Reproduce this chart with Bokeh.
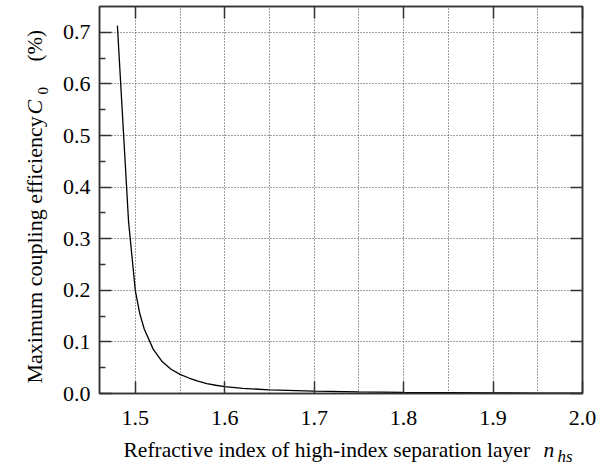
import math

from bokeh.embed import file_html
from bokeh.layouts import column, row
from bokeh.models import FixedTicker, Label, LinearAxis, PrintfTickFormatter, Range1d
from bokeh.plotting import figure
from bokeh.resources import INLINE

# Refractive index of the high-index separation layer
n_hs = [1.48, 1.4925, 1.50, 1.505, 1.51, 1.52, 1.53, 1.54, 1.55, 1.56, 1.57,
        1.58, 1.59, 1.60, 1.62, 1.65, 1.70, 1.75, 1.80, 1.85, 1.90, 1.95, 2.00]
# Maximum coupling efficiency C0 (%)
c0 = [0.713, 0.333, 0.200, 0.155, 0.125, 0.086, 0.062, 0.047, 0.037, 0.030, 0.024,
      0.019, 0.016, 0.0135, 0.010, 0.007, 0.0045, 0.003, 0.002, 0.0015, 0.001, 0.0008, 0.0006]

x_ticks = [1.5, 1.6, 1.7, 1.8, 1.9, 2.0]
x_grid = [1.5, 1.55, 1.6, 1.65, 1.7, 1.75, 1.8, 1.85, 1.9, 1.95]
y_ticks = [0.0, 0.1, 0.2, 0.3, 0.4, 0.5, 0.6, 0.7]
y_minor = [0.05, 0.15, 0.25, 0.35, 0.45, 0.55, 0.65]
y_grid = [0.1, 0.2, 0.3, 0.4, 0.5, 0.6, 0.7]

SERIF = "Liberation Serif"
FRAME = "#333333"

LEFT_W = 52      # strip holding the rotated y title
MAIN_W = 608 - LEFT_W
MAIN_H = 437
BOTTOM_H = 466 - MAIN_H  # strip holding the x title

p = figure(width=MAIN_W, height=MAIN_H, output_backend="svg", toolbar_location=None,
           x_range=Range1d(1.46, 2.0), y_range=Range1d(0.0, 0.75),
           min_border_left=47, min_border_right=26, min_border_top=6,
           min_border_bottom=MAIN_H - 393,
           background_fill_color="white", border_fill_color="white")
p.outline_line_color = FRAME
p.outline_line_width = 1.5


def style_axis(ax, tick_len, labels=True):
    ax.axis_line_color = FRAME
    ax.axis_line_width = 1.5
    ax.major_tick_line_color = FRAME
    ax.major_tick_line_width = 1.5
    ax.major_tick_in = tick_len
    ax.major_tick_out = 0
    ax.minor_tick_line_color = None
    if labels:
        ax.major_label_text_font = SERIF
        ax.major_label_text_font_size = "22px"
        ax.major_label_text_color = "black"
        ax.formatter = PrintfTickFormatter(format="%.1f")
    else:
        # mirrored ticks only, no numbers
        ax.major_label_text_color = None
        ax.major_label_text_font_size = "1px"
        ax.major_label_standoff = 0


xa = p.xaxis[0]
xa.ticker = FixedTicker(ticks=x_ticks)
style_axis(xa, 12)
xa.major_label_standoff = 17

ya = p.yaxis[0]
ya.ticker = FixedTicker(ticks=y_ticks, minor_ticks=y_minor)
style_axis(ya, 12)
ya.minor_tick_line_color = FRAME
ya.minor_tick_line_width = 1.5
ya.minor_tick_in = 6
ya.minor_tick_out = 0
ya.major_label_standoff = 9

top = LinearAxis(ticker=FixedTicker(ticks=x_ticks))
style_axis(top, 12, labels=False)
p.add_layout(top, "above")

right = LinearAxis(ticker=FixedTicker(ticks=y_ticks))
style_axis(right, 12, labels=False)
p.add_layout(right, "right")

# dotted grid: every 0.05 in n_hs, every 0.1 in C0
p.xgrid.ticker = FixedTicker(ticks=x_grid)
p.ygrid.ticker = FixedTicker(ticks=y_grid)
for g in (p.xgrid, p.ygrid):
    g.grid_line_color = "#444444"
    g.grid_line_width = 1
    g.grid_line_dash = "1 2"

p.line(n_hs, c0, line_color="black", line_width=1.3)


def text_strip(width, height):
    f = figure(width=width, height=height, output_backend="svg", toolbar_location=None,
               x_range=Range1d(0, 1), y_range=Range1d(0, 1), min_border=0,
               x_axis_location=None, y_axis_location=None,
               background_fill_color="white", border_fill_color="white")
    f.outline_line_color = None
    f.xgrid.grid_line_color = None
    f.ygrid.grid_line_color = None
    return f


def text(f, x, y, s, size, italic=False, angle=0.0):
    f.add_layout(Label(x=x, y=y, x_units="screen", y_units="screen", text=s,
                       text_font=SERIF, text_font_size=size,
                       text_font_style="italic" if italic else "normal",
                       text_color="black", text_align="left",
                       text_baseline="alphabetic", angle=angle))


# x title with subscripted symbol n_hs (strip frame shares the main plot's left edge)
bottom = text_strip(MAIN_W, BOTTOM_H)
text(bottom, 24, 17, "Refractive index of high-index separation layer", "21.5px")
text(bottom, 444, 17, "n", "21.5px", italic=True)
text(bottom, 458, 10, "hs", "17px", italic=True)

# y title with subscripted symbol C_0, reading upwards
up = math.pi / 2
left = text_strip(LEFT_W, 466)
text(left, 34, 83, "Maximum coupling efficiency", "22px", angle=up)
text(left, 34, 352, "C", "22px", italic=True, angle=up)
text(left, 42, 372, "0", "15px", angle=up)
text(left, 34, 405, "(%)", "21px", angle=up)

page = row(left, column(p, bottom, spacing=0), spacing=0)
open("out.html", "w").write(file_html(page, INLINE))
